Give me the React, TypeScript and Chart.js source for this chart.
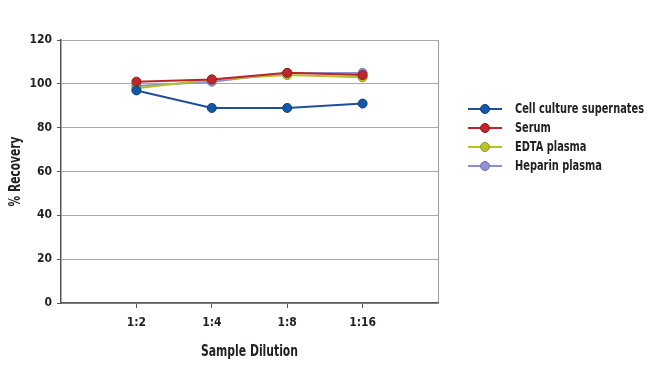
import React, { useEffect, useRef } from "react";
import { Chart, registerables } from "chart.js";

Chart.register(...registerables);

const categories = ["", "1:2", "1:4", "1:8", "1:16", ""];
const cellCulture = [null, 97, 89, 89, 91, null];
const serum = [null, 101, 102, 105, 104, null];
const edtaPlasma = [null, 98, 102, 104, 103, null];
const heparinPlasma = [null, 99, 101, 105, 105, null];
const yTicks = [0, 20, 40, 60, 80, 100, 120];
const xTitle = "Sample Dilution";
const yTitle = "% Recovery";

const FONT = "'DejaVu Sans Condensed', 'Liberation Sans Narrow', sans-serif";
const TEXT = "#231f20";

function condensedText(ctx: any, text: string, x: number, y: number, size: number, targetWidth: number, rotate = 0) {
  ctx.save();
  ctx.font = `bold ${size}px ${FONT}`;
  const w = ctx.measureText(text).width;
  const k = Math.min(1, targetWidth / w);
  ctx.translate(x, y);
  if (rotate) ctx.rotate(rotate);
  ctx.scale(k, 1);
  ctx.fillStyle = TEXT;
  ctx.textBaseline = "middle";
  ctx.textAlign = "center";
  ctx.fillText(text, 0, 0);
  ctx.restore();
}

const textPlugin = {
  id: "sideText",
  afterDraw(chart: any) {
    const ctx = chart.ctx;
    const area = chart.chartArea;
    condensedText(ctx, xTitle, (area.left + area.right) / 2, 352, 15, 97);
    condensedText(ctx, yTitle, 16, (area.top + area.bottom) / 2, 15, 70, -Math.PI / 2);
    ctx.save();
    chart.data.datasets.forEach((ds: any, i: number) => {
      const y = 109 + i * 19;
      ctx.strokeStyle = ds.borderColor;
      ctx.lineWidth = 2;
      ctx.beginPath();
      ctx.moveTo(468, y);
      ctx.lineTo(502, y);
      ctx.stroke();
      ctx.beginPath();
      ctx.arc(485, y, 4.5, 0, Math.PI * 2);
      ctx.fillStyle = ds.pointBackgroundColor;
      ctx.fill();
      ctx.lineWidth = 1;
      ctx.strokeStyle = ds.pointBorderColor;
      ctx.stroke();
      ctx.save();
      ctx.translate(515, y);
      ctx.scale(0.78, 1);
      ctx.fillStyle = TEXT;
      ctx.font = `bold 14px ${FONT}`;
      ctx.textBaseline = "middle";
      ctx.textAlign = "left";
      ctx.fillText(ds.label, 0, 0);
      ctx.restore();
    });
    ctx.restore();
  },
};

function mk(label: string, data: (number | null)[], line: string, fill: string, border: string) {
  return {
    label,
    data,
    borderColor: line,
    backgroundColor: fill,
    pointBackgroundColor: fill,
    pointBorderColor: border,
    pointBorderWidth: 1,
    pointRadius: 4.5,
    borderWidth: 2,
    tension: 0,
    spanGaps: false,
  };
}

export default function App() {
  const ref = useRef<HTMLCanvasElement>(null);
  useEffect(() => {
    document.body.style.margin = "0";
    const chart = new Chart(ref.current!, {
      type: "line",
      data: {
        labels: categories,
        datasets: [
          mk("Cell culture supernates", cellCulture, "#1f4f96", "#1358a8", "#0c3c7c"),
          mk("Serum", serum, "#b8252a", "#c0262b", "#8e1a1e"),
          mk("EDTA plasma", edtaPlasma, "#b6c128", "#b9c52a", "#8f9a1c"),
          mk("Heparin plasma", heparinPlasma, "#8c8fcf", "#8f93d3", "#6c70b0"),
        ],
      },
      options: {
        animation: false,
        responsive: false,
        events: [],
        layout: { padding: { left: 0, right: 212, top: 40, bottom: 0 } },
        plugins: { legend: { display: false }, tooltip: { enabled: false } },
        scales: {
          x: {
            type: "category",
            offset: false,
            afterFit(s: any) {
              s.height = 62;
            },
            grid: {
              drawOnChartArea: true,
              color: (c: any) => (c.index === 5 ? "#9a9a9a" : "rgba(0,0,0,0)"),
              tickColor: (c: any) => (c.index >= 1 && c.index <= 4 ? "#555" : "rgba(0,0,0,0)"),
              tickLength: 5,
              lineWidth: 1,
            },
            border: { display: true, color: "#555", width: 1.5 },
            ticks: {
              color: TEXT,
              font: { family: FONT, size: 12, weight: "bold" },
              padding: 8,
              maxRotation: 0,
              autoSkip: false,
            },
          },
          y: {
            min: 0,
            max: 120,
            afterFit(s: any) {
              s.width = 61;
            },
            afterBuildTicks(s: any) {
              s.ticks = yTicks.map((v) => ({ value: v }));
            },
            grid: {
              color: "#a8a8a8",
              tickColor: "#555",
              tickLength: 4,
              lineWidth: 1,
            },
            border: { display: true, color: "#555", width: 1.5 },
            ticks: {
              color: TEXT,
              font: { family: FONT, size: 12, weight: "bold" },
              padding: 5,
            },
          },
        },
      },
      plugins: [textPlugin],
    } as any);
    return () => chart.destroy();
  }, []);
  return (
    <div style={{ width: 650, height: 365, background: "#fff" }}>
      <canvas ref={ref} width={650} height={365} style={{ display: "block" }} />
    </div>
  );
}
